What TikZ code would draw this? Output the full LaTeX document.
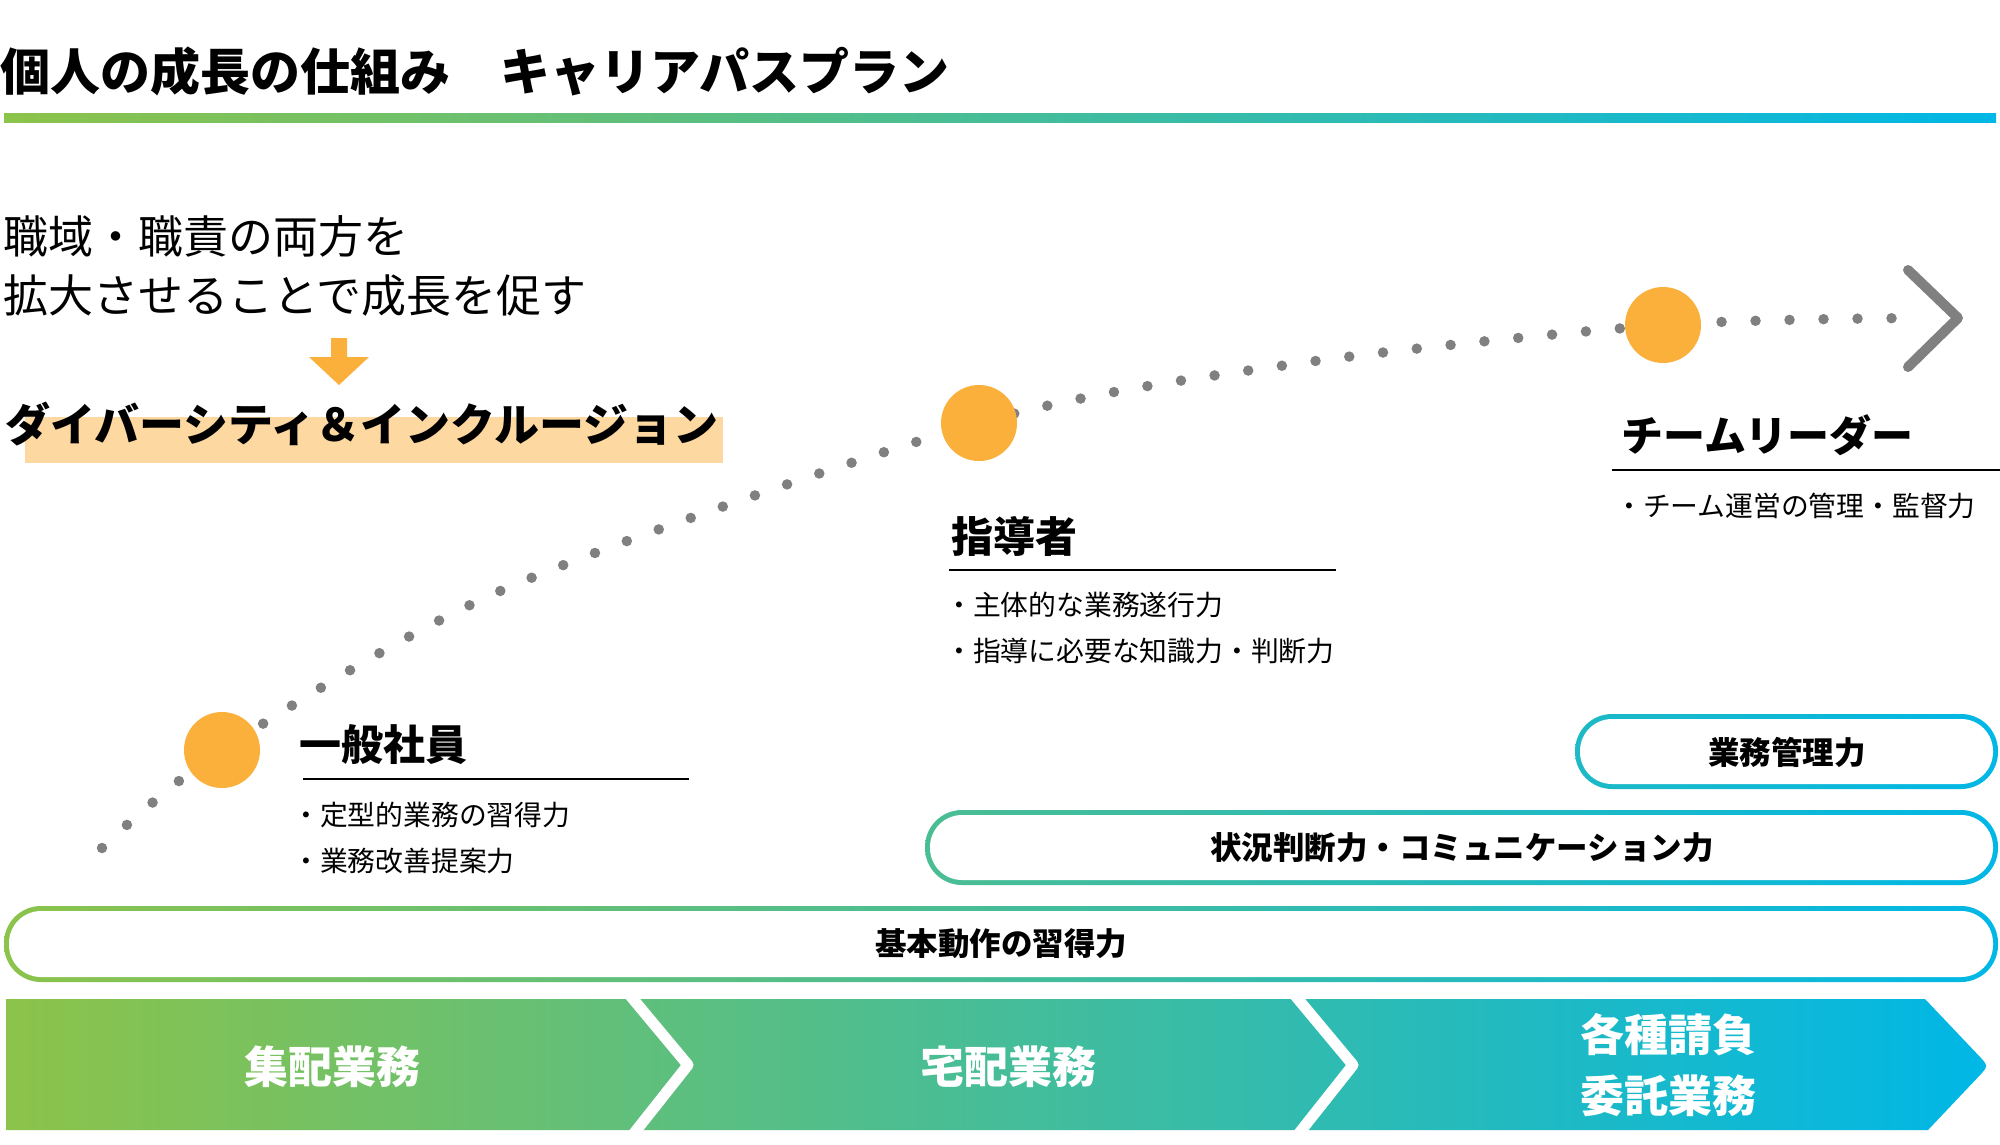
\documentclass[tikz,border=0pt]{standalone}
\usepackage{fontspec}
\setmainfont{Noto Sans CJK JP}
\definecolor{gleft}{RGB}{140,195,74}
\definecolor{gright}{RGB}{0,183,230}
\definecolor{sun}{RGB}{251,176,59}
\definecolor{peach}{RGB}{253,216,160}
\definecolor{dotgray}{RGB}{128,128,128}
\newcommand{\skillpill}[4]{%
  \begin{scope}
    \clip[rounded corners=37pt] (#1,#2) rectangle (#3,#4);
    \shade[left color=gleft, right color=gright] (0,#2) rectangle (2000,#4);
  \end{scope}
  \fill[white, rounded corners=32pt] (#1+5,#2+5) rectangle (#3-5,#4-5);
}

\begin{document}
\begin{tikzpicture}[x=1pt, y=-1pt,
    every node/.style={inner sep=0pt},
    body/.style={anchor=west, font=\fontsize{45}{45}\selectfont},
    head/.style={anchor=west, font=\bfseries\fontsize{42}{42}\selectfont},
    item/.style={anchor=west, font=\fontsize{27.8}{28}\selectfont},
    skill/.style={font=\bfseries\fontsize{31.5}{32}\selectfont},
    work/.style={text=white, font=\bfseries\fontsize{44}{44}\selectfont},
    stage/.style={circle, fill=sun, minimum size=76pt},
    dotline/.style={dotgray, line width=10.5pt, line cap=round, dash pattern=on 0pt off 34pt},
    uline/.style={line width=2pt},
    sep/.style={white, line width=11pt, line join=round}]
  \fill[white] (0,0) rectangle (2000,1144);
  \useasboundingbox (0,0) rectangle (2000,1144);

  \node[anchor=west, font=\bfseries\fontsize{50}{50}\selectfont] (title) at (0,71) {個人の成長の仕組み　キャリアパスプラン};
  \shade[left color=gleft, right color=gright] (4,113) rectangle (1996,122);

  \node[body] (lineA) at (3,236) {職域・職責の両方を};
  \node[body] (lineB) at (3,296) {拡大させることで成長を促す};
  \fill[sun] (331,338) -- (347,338) -- (347,357) -- (369,357) -- (339,385) -- (309,357) -- (331,357) -- cycle;
  \fill[peach] (25,417) rectangle (723,463);
  \node[body, font=\bfseries\fontsize{45}{45}\selectfont] (dandi) at (5,424) {ダイバーシティ＆インクルージョン};

  \coordinate (p1) at (222,750);
  \coordinate (p2) at (979,423);
  \coordinate (p3) at (1663,325);
  \draw[dotline] plot[smooth, tension=0.5] coordinates {(102,848) (p1) (507,588) (p2) (1301,363) (p3) (1921,318)};
  \node[stage] (staff) at (p1) {};
  \node[stage] (mentor) at (p2) {};
  \node[stage] (leader) at (p3) {};
  \draw[dotgray, line width=10pt, line cap=round, line join=round] (1908,270) -- (1958,318) -- (1908,367);

  \node[head] (staffhead) at (299,745) {一般社員};
  \draw[uline] (303,779) -- (689,779);
  \node[item] (staffA) at (292,815) {・定型的業務の習得力};
  \node[item] (staffB) at (292,861) {・業務改善提案力};

  \node[head] (mentorhead) at (951,536) {指導者};
  \draw[uline] (949,570) -- (1336,570);
  \node[item] (mentorA) at (945,605) {・主体的な業務遂行力};
  \node[item] (mentorB) at (945,651) {・指導に必要な知識力・判断力};

  \node[head] (leaderhead) at (1621,435) {チームリーダー};
  \draw[uline] (1612,470) -- (2000,470);
  \node[item] (leaderA) at (1615,506) {・チーム運営の管理・監督力};

  \skillpill{1575}{714}{1998}{789}
  \node[skill] (manage) at (1787,752) {業務管理力};
  \skillpill{925}{810}{1998}{885}
  \node[skill] (judge) at (1462,848) {状況判断力・コミュニケーション力};
  \skillpill{4}{906}{1998}{982}
  \node[skill] (basic) at (1001,944) {基本動作の習得力};

  \shade[left color=gleft, right color=gright] (6,999) -- (1925,999) -- (1981,1058) .. controls (1988,1066) .. (1981,1074) -- (1928,1130) -- (6,1130) -- cycle;
  \draw[sep] (628,993) -- (688,1065) -- (631,1137);
  \draw[sep] (1293,993) -- (1353,1065) -- (1296,1137);
  \node[work] (collect) at (332,1067) {集配業務};
  \node[work] (home) at (1008,1067) {宅配業務};
  \node[work] (contractA) at (1668,1035) {各種請負};
  \node[work] (contractB) at (1668,1096) {委託業務};
\end{tikzpicture}
\end{document}
